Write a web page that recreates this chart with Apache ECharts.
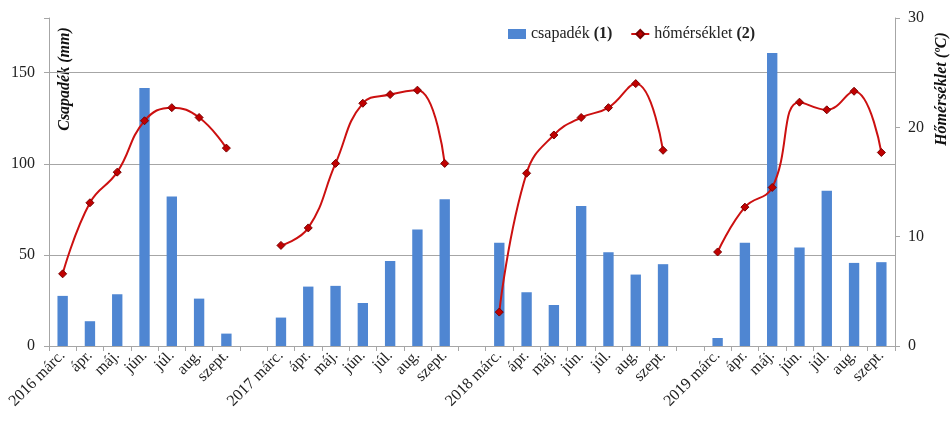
<!DOCTYPE html>
<html>
<head>
<meta charset="utf-8">
<script src="https://cdn.jsdelivr.net/npm/echarts@6/dist/echarts.min.js"></script>
<style>
  html, body { margin: 0; padding: 0; background: #fff; }
  #chart { width: 951px; height: 425px; }
</style>
</head>
<body>
<div id="chart"></div>
<script>
// Month labels; empty strings separate the seasons
var categories = [
  '2016 márc.', 'ápr.', 'máj.', 'jún.', 'júl.', 'aug.', 'szept.', '',
  '2017 márc.', 'ápr.', 'máj.', 'jún.', 'júl.', 'aug.', 'szept.', '',
  '2018 márc.', 'ápr.', 'máj.', 'jún.', 'júl.', 'aug.', 'szept.', '',
  '2019 márc.', 'ápr.', 'máj.', 'jún.', 'júl.', 'aug.', 'szept.'
];

// Monthly precipitation (mm)
var csapadek = [
  27.5, 13.6, 28.4, 141.6, 82, 26, 6.8, null,
  15.6, 32.6, 33, 23.6, 46.7, 64, 80.6, null,
  56.6, 29.5, 22.5, 76.8, 51.5, 39.2, 44.9, null,
  4.4, 56.6, 160.8, 54, 85.2, 45.6, 46
];

// Monthly mean temperature (°C)
var homerseklet = [
  6.6, 13.1, 15.9, 20.6, 21.8, 20.9, 18.1, null,
  9.2, 10.8, 16.7, 22.2, 23.0, 23.4, 16.7, null,
  3.1, 15.8, 19.3, 20.9, 21.8, 24.0, 17.9, null,
  8.6, 12.7, 14.5, 22.3, 21.6, 23.3, 17.7
];

var leftTicks = [0, 50, 100, 150];
var rightTicks = [0, 10, 20, 30];

var FONT = '"Liberation Serif", "Times New Roman", serif';
var AXIS_GRAY = '#A6A6A6';

var chart = echarts.init(document.getElementById('chart'), null, { renderer: 'canvas' });

chart.setOption({
  animation: false,
  backgroundColor: '#fff',
  textStyle: { fontFamily: FONT, color: '#222' },
  grid: { left: 49, right: 56, top: 18, bottom: 79, containLabel: false },
  legend: {
    left: 503,
    top: 21,
    itemWidth: 18,
    itemHeight: 10,
    itemGap: 18,
    textStyle: {
      fontFamily: FONT,
      fontSize: 16,
      color: '#222',
      rich: {
        b: { fontFamily: FONT, fontSize: 16, fontWeight: 'bold', color: '#222' }
      }
    },
    formatter: function (name) {
      return name === 'csapadék' ? 'csapadék {b|(1)}' : 'hőmérséklet {b|(2)}';
    },
    data: [
      { name: 'csapadék', icon: 'rect' },
      { name: 'hőmérséklet' }
    ]
  },
  xAxis: {
    type: 'category',
    data: categories,
    boundaryGap: true,
    axisLine: { lineStyle: { color: AXIS_GRAY, width: 1 } },
    axisTick: { show: true, interval: 0, length: 5, lineStyle: { color: AXIS_GRAY } },
    axisLabel: {
      interval: 0,
      rotate: 45,
      margin: 7,
      fontFamily: FONT,
      fontSize: 16,
      color: '#222'
    },
    splitLine: { show: false }
  },
  yAxis: [
    {
      type: 'value',
      min: 0,
      max: 180,
      interval: 50,
      position: 'left',
      axisLine: { show: true, lineStyle: { color: AXIS_GRAY, width: 1 } },
      axisTick: { show: true, length: 5, lineStyle: { color: AXIS_GRAY } },
      axisLabel: {
        margin: 14,
        fontFamily: FONT,
        fontSize: 16,
        color: '#222',
        formatter: function (v) { return leftTicks.indexOf(v) >= 0 ? String(v) : ''; }
      },
      splitLine: { show: true, showMaxLine: false, lineStyle: { color: AXIS_GRAY, width: 1 } }
    },
    {
      type: 'value',
      min: 0,
      max: 30,
      interval: 10,
      position: 'right',
      axisLine: { show: true, lineStyle: { color: AXIS_GRAY, width: 1 } },
      axisTick: { show: true, length: 5, lineStyle: { color: AXIS_GRAY } },
      axisLabel: {
        margin: 13,
        fontFamily: FONT,
        fontSize: 16,
        color: '#222',
        formatter: function (v) { return rightTicks.indexOf(v) >= 0 ? String(v) : ''; }
      },
      splitLine: { show: false }
    }
  ],
  series: [
    {
      name: 'csapadék',
      type: 'bar',
      yAxisIndex: 0,
      data: csapadek,
      barWidth: '38%',
      itemStyle: { color: '#4F86D2' },
      z: 2
    },
    {
      name: 'hőmérséklet',
      type: 'line',
      yAxisIndex: 1,
      data: homerseklet,
      smooth: 0.45,
      connectNulls: false,
      symbol: 'diamond',
      symbolSize: 8,
      showSymbol: true,
      lineStyle: { color: '#CC1010', width: 2 },
      itemStyle: { color: '#C00000', borderColor: '#7A0000', borderWidth: 1 },
      z: 3
    }
  ],
  graphic: [
    {
      type: 'text',
      x: 65,
      y: 79,
      rotation: Math.PI / 2,
      style: {
        text: 'Csapadék (mm)',
        font: 'italic bold 16px ' + FONT,
        fill: '#111',
        align: 'center',
        verticalAlign: 'middle'
      }
    },
    {
      type: 'text',
      x: 942,
      y: 89,
      rotation: Math.PI / 2,
      style: {
        text: 'Hőmérséklet (ºC)',
        font: 'italic bold 16px ' + FONT,
        fill: '#111',
        align: 'center',
        verticalAlign: 'middle'
      }
    }
  ]
});
</script>
</body>
</html>
